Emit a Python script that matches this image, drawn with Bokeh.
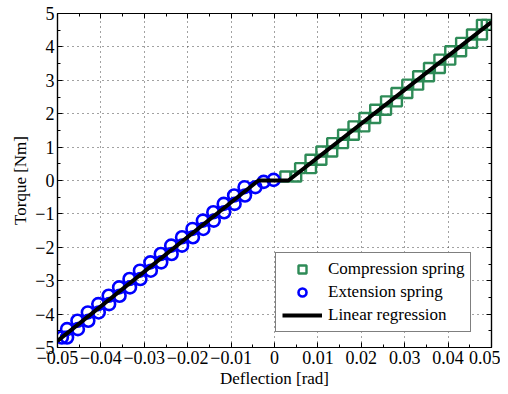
from bokeh.plotting import figure
from bokeh.models import (LinearAxis, FixedTicker, CustomJSTickFormatter, Range1d,
                          Legend, LegendItem, ColumnDataSource)
from bokeh.embed import file_html
from bokeh.resources import INLINE

# ---- data (loading / unloading pairs at each torque level) ----
comp_x = [0.0025, 0.0050, 0.0059, 0.0084, 0.0083, 0.0108, 0.0108, 0.0133, 0.0133, 0.0158,
          0.0158, 0.0183, 0.0182, 0.0207, 0.0207, 0.0232, 0.0232, 0.0257, 0.0257, 0.0282,
          0.0281, 0.0306, 0.0306, 0.0331, 0.0331, 0.0356, 0.0356, 0.0381, 0.0380, 0.0405,
          0.0405, 0.0430, 0.0430, 0.0455, 0.0455, 0.0478, 0.0478, 0.0489]
comp_y = [0.12, 0.12, 0.37, 0.37, 0.62, 0.62, 0.87, 0.87, 1.12, 1.12,
          1.37, 1.37, 1.62, 1.62, 1.87, 1.87, 2.12, 2.12, 2.37, 2.37,
          2.62, 2.62, 2.87, 2.87, 3.12, 3.12, 3.37, 3.37, 3.62, 3.62,
          3.87, 3.87, 4.12, 4.12, 4.37, 4.37, 4.66, 4.66]

ext_x = [-0.0490, -0.0478, -0.0478, -0.0453, -0.0454, -0.0429, -0.0430, -0.0405,
         -0.0406, -0.0381, -0.0382, -0.0357, -0.0358, -0.0333, -0.0334, -0.0309,
         -0.0310, -0.0285, -0.0286, -0.0261, -0.0262, -0.0237, -0.0238, -0.0213,
         -0.0213, -0.0188, -0.0189, -0.0164, -0.0165, -0.0140, -0.0141, -0.0116,
         -0.0117, -0.0092, -0.0093, -0.0068, -0.0069, -0.0044, -0.0025, -0.0002]
ext_y = [-4.70, -4.70, -4.45, -4.45, -4.20, -4.20, -3.95, -3.95,
         -3.70, -3.70, -3.45, -3.45, -3.20, -3.20, -2.95, -2.95,
         -2.70, -2.70, -2.45, -2.45, -2.20, -2.20, -1.95, -1.95,
         -1.70, -1.70, -1.45, -1.45, -1.20, -1.20, -0.95, -0.95,
         -0.70, -0.70, -0.45, -0.45, -0.20, -0.20, -0.04, 0.02]

reg_x = [-0.05, -0.0037, 0.0032, 0.05]
reg_y = [-4.80, 0.0, 0.0, 4.74]

x_ticks = [-0.05, -0.04, -0.03, -0.02, -0.01, 0, 0.01, 0.02, 0.03, 0.04, 0.05]
y_ticks = [-5, -4, -3, -2, -1, 0, 1, 2, 3, 4, 5]

FONT = "Liberation Serif"

p = figure(width=500, height=392, output_backend="svg", toolbar_location=None,
           x_range=Range1d(-0.05, 0.05), y_range=Range1d(-5, 5),
           min_border_left=57, min_border_right=9, min_border_top=13, min_border_bottom=45,
           background_fill_color="white", border_fill_color="white")
p.outline_line_color = "black"
p.outline_line_width = 1.2

xfmt = CustomJSTickFormatter(code="""
if (Math.abs(tick) < 1e-9) return '0';
return tick.toFixed(2).replace('-', '\\u2212');
""")
yfmt = CustomJSTickFormatter(code="""
if (Math.abs(tick) < 1e-9) return '0';
return tick.toFixed(0).replace('-', '\\u2212');
""")
blank = CustomJSTickFormatter(code="return '';")

def style_axis(ax, ticks, fmt, labels=True):
    step = ticks[1] - ticks[0]
    ax.ticker = FixedTicker(ticks=ticks, minor_ticks=[t + step / 2 for t in ticks[:-1]])
    ax.major_tick_in = 5
    ax.major_tick_out = 0
    ax.minor_tick_in = 3
    ax.minor_tick_out = 0
    ax.axis_line_color = "black"
    ax.axis_line_width = 1.2
    ax.major_tick_line_color = "black"
    ax.minor_tick_line_color = "black"
    if labels:
        ax.formatter = fmt
        ax.major_label_text_font = FONT
        ax.major_label_text_font_size = "18px"
        ax.major_label_text_color = "black"
        ax.major_label_standoff = 3
        ax.axis_label_text_font = FONT
        ax.axis_label_text_font_size = "17px"
        ax.axis_label_text_font_style = "normal"
        ax.axis_label_text_color = "black"
        ax.axis_label_standoff = 2
    else:
        ax.formatter = blank
        ax.major_label_standoff = 0

style_axis(p.xaxis[0], x_ticks, xfmt)
style_axis(p.yaxis[0], y_ticks, yfmt)
p.xaxis[0].axis_label = "Deflection [rad]"
p.yaxis[0].axis_label = "Torque [Nm]"

top = LinearAxis()
style_axis(top, x_ticks, xfmt, labels=False)
p.add_layout(top, "above")
right = LinearAxis()
style_axis(right, y_ticks, yfmt, labels=False)
p.add_layout(right, "right")

p.xgrid.ticker = FixedTicker(ticks=x_ticks)
p.ygrid.ticker = FixedTicker(ticks=y_ticks)
for g in (p.xgrid, p.ygrid):
    g.grid_line_color = "#444444"
    g.grid_line_dash = "1 4"
    g.grid_line_width = 1

src_c = ColumnDataSource(dict(x=comp_x, y=comp_y))
src_e = ColumnDataSource(dict(x=ext_x, y=ext_y))
src_r = ColumnDataSource(dict(x=reg_x, y=reg_y))

r_c = p.scatter("x", "y", source=src_c, marker="square", size=10, fill_color=None,
                line_color="#2e8b57", line_width=2.4)
r_e = p.scatter("x", "y", source=src_e, marker="circle", size=12, fill_color=None,
                line_color="#0000ff", line_width=2.6)
r_r = p.line("x", "y", source=src_r, line_color="black", line_width=4)

legend = Legend(items=[LegendItem(label="Compression spring", renderers=[r_c]),
                       LegendItem(label="Extension spring", renderers=[r_e]),
                       LegendItem(label="Linear regression", renderers=[r_r])],
                location=(218, 15))
legend.label_text_font = FONT
legend.label_text_font_size = "17px"
legend.label_text_color = "black"
legend.border_line_color = "black"
legend.border_line_width = 1
legend.background_fill_color = "white"
legend.background_fill_alpha = 1
legend.glyph_width = 40
legend.glyph_height = 20
legend.label_height = 20
legend.label_standoff = 6
legend.spacing = 3
legend.padding = 6
legend.margin = 0
p.add_layout(legend, "center")

open("out.html", "w").write(file_html(p, INLINE))
